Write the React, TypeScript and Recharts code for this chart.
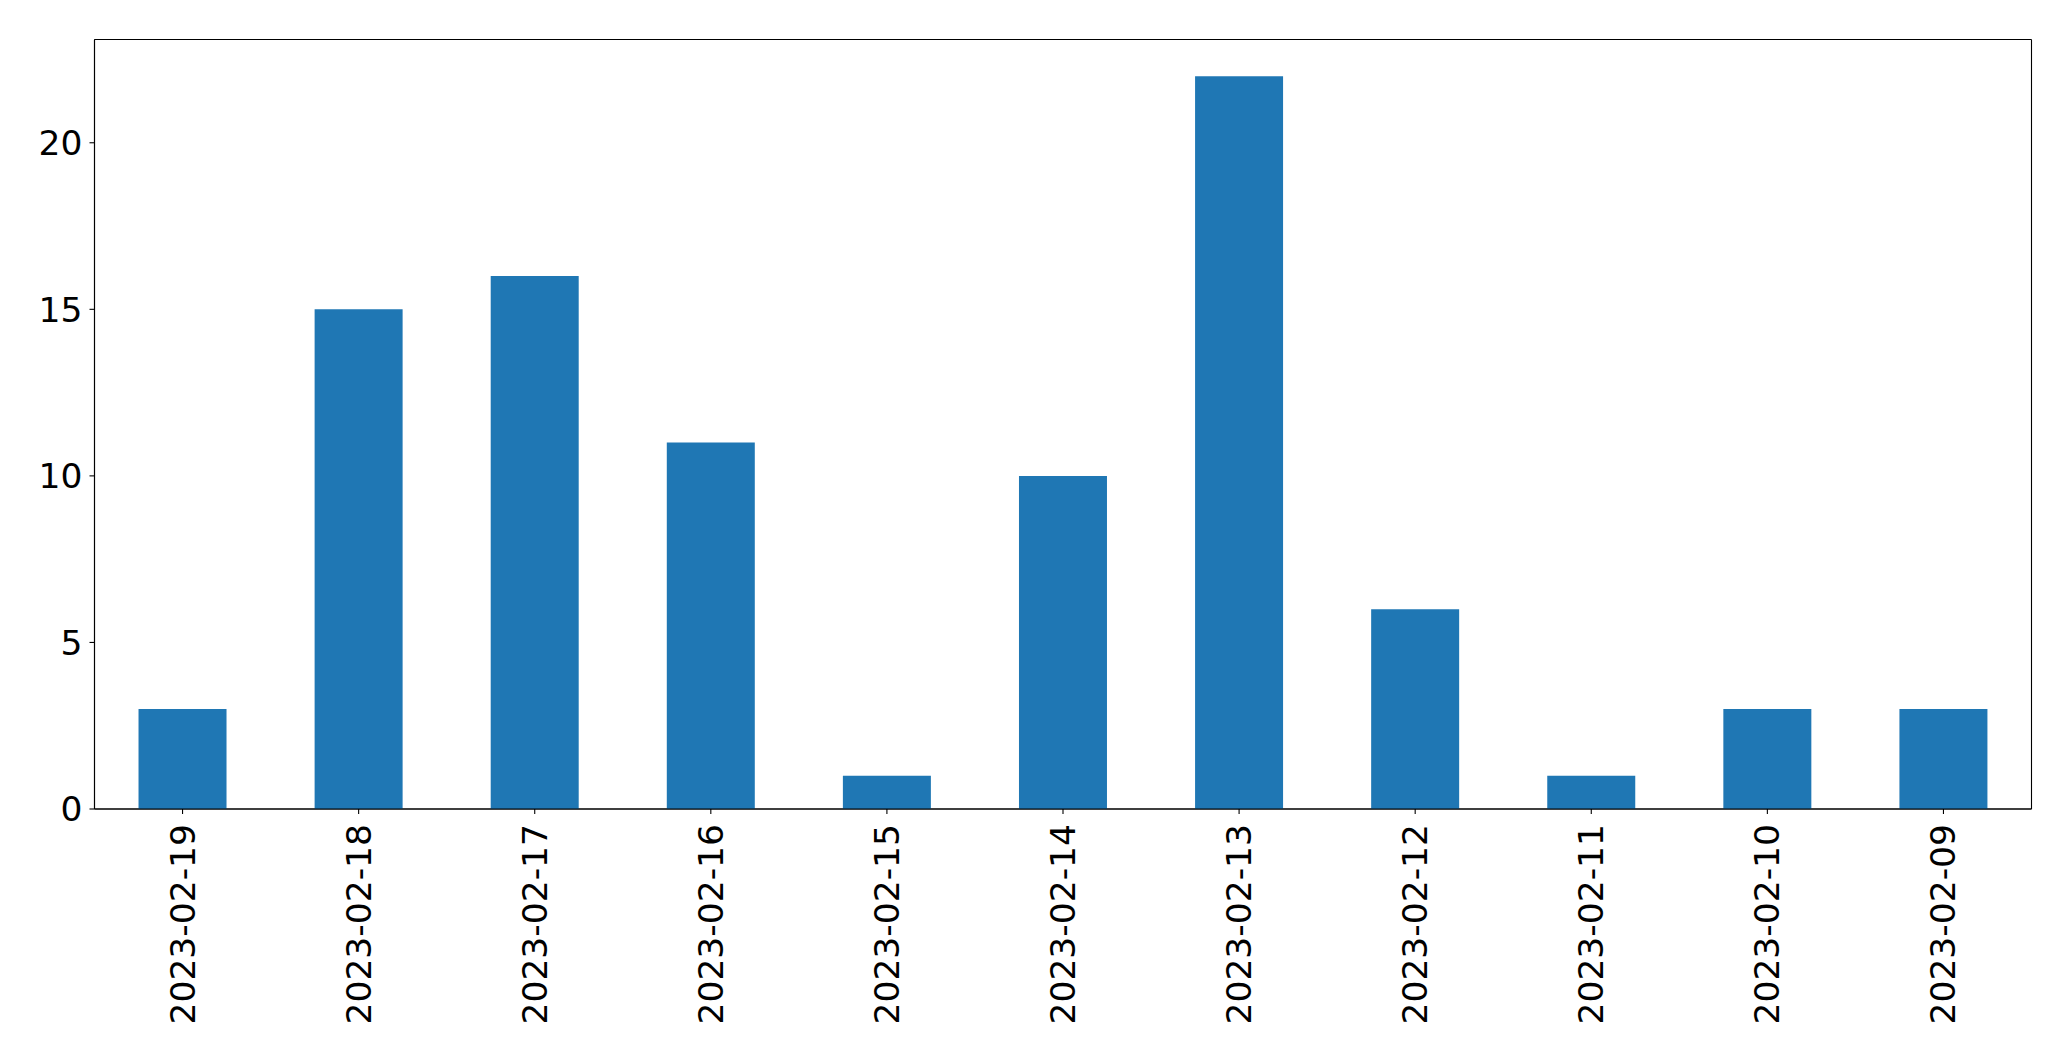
import { Bar, BarChart, CartesianGrid, XAxis, YAxis } from "recharts";

const dates = [
  "2023-02-19",
  "2023-02-18",
  "2023-02-17",
  "2023-02-16",
  "2023-02-15",
  "2023-02-14",
  "2023-02-13",
  "2023-02-12",
  "2023-02-11",
  "2023-02-10",
  "2023-02-09",
];
const counts = [3, 15, 16, 11, 1, 10, 22, 6, 1, 3, 3];
const yTicks = [0, 5, 10, 15, 20];

const data = dates.map((date, i) => ({ date, count: counts[i] }));

const FONT = "'DejaVu Sans', sans-serif";
const INK = "#000";
const FS = 34.5;

function DateTick({ x, y, payload }: any) {
  return (
    <text
      x={x}
      y={y}
      transform={`rotate(-90, ${x}, ${y})`}
      textAnchor="end"
      dominantBaseline="central"
      fontSize={FS}
      fontFamily={FONT}
      fill={INK}
    >
      {payload.value}
    </text>
  );
}

// frame edges from the plot offset
const frameH = ({ offset }: any) => [offset.top, offset.top + offset.height];
const frameV = ({ offset }: any) => [offset.left, offset.left + offset.width];

export default function App() {
  return (
    <div style={{ position: "absolute", left: 0, top: 0, background: "#fff" }}>
      <BarChart
        width={2071}
        height={1061}
        data={data}
        margin={{ top: 39.5, right: 39.5, left: 0.5, bottom: 0 }}
        barCategoryGap="25%"
      >
        <Bar dataKey="count" fill="#1f77b4" isAnimationActive={false} />
        <CartesianGrid
          stroke={INK}
          strokeWidth={1.1}
          horizontalCoordinatesGenerator={frameH}
          verticalCoordinatesGenerator={frameV}
        />
        <XAxis
          dataKey="date"
          height={252}
          interval={0}
          tick={<DateTick />}
          tickSize={5}
          tickMargin={10}
          tickLine={{ stroke: INK, strokeWidth: 1.1 }}
          axisLine={{ stroke: INK, strokeWidth: 1.1 }}
        />
        <YAxis
          width={94}
          domain={[0, 23.1]}
          ticks={yTicks}
          tickSize={5}
          tickMargin={7}
          tick={{ fontSize: FS, fontFamily: FONT, fill: INK }}
          tickLine={{ stroke: INK, strokeWidth: 1.1 }}
          axisLine={{ stroke: INK, strokeWidth: 1.1 }}
        />
      </BarChart>
    </div>
  );
}
